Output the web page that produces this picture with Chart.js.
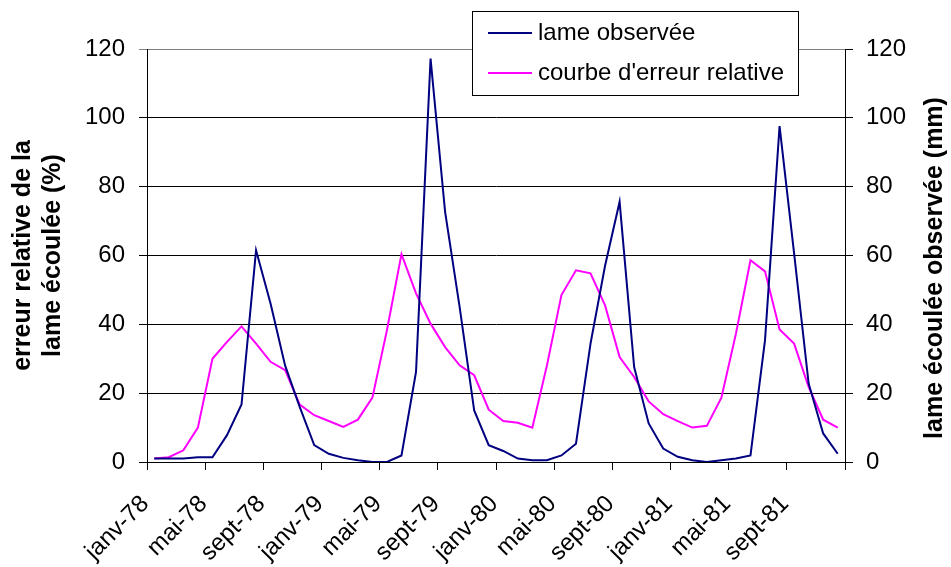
<!DOCTYPE html>
<html lang="fr">
<head>
    <meta charset="UTF-8">
    <title>Lame observée et erreur relative</title>
    <script src="https://cdn.jsdelivr.net/npm/chart.js"></script>
    <style>
        body {
            margin: 0;
            background: #fff;
        }
        #wrap {
            width: 951px;
            height: 567px;
        }
    </style>
</head>
<body>
    <div id="wrap"><canvas id="chart"></canvas></div>

    <script>
        // Mois de janv-78 a déc-81
        const moisNoms = ['janv', 'févr', 'mars', 'avr', 'mai', 'juin', 'juil', 'août', 'sept', 'oct', 'nov', 'déc'];
        const annees = ['78', '79', '80', '81'];
        const mois = [];
        annees.forEach(a => moisNoms.forEach(m => mois.push(m + '-' + a)));

        // lame écoulée observée (mm) - axe de droite
        const lameObservee = [
            1.0, 1.0, 1.0, 1.4, 1.4, 7.8, 16.7, 61.5, 46, 28, 16, 4.9,
            2.4, 1.2, 0.5, 0, 0, 1.9, 26.2, 117.2, 72.7, 45, 15, 4.9,
            3.2, 1.0, 0.5, 0.5, 1.9, 5.3, 34.4, 57, 75.6, 27.6, 11.2, 3.9,
            1.5, 0.5, 0, 0.5, 1.0, 1.9, 35.4, 97.6, 60.6, 22.8, 8.3, 2.4
        ];

        // erreur relative de la lame écoulée (%) - axe de gauche
        const erreurRelative = [
            1.0, 1.4, 3.4, 10, 30, 34.9, 39.4, 34.4, 29.1, 26.7, 16.7, 13.6,
            11.9, 10.2, 12.3, 18.7, 38.3, 60.4, 49, 40.2, 33.4, 28.1, 25.2, 15.2,
            11.9, 11.4, 10, 28, 48.5, 55.7, 54.8, 45.5, 30.5, 24.7, 17.6, 13.9,
            11.9, 10, 10.5, 18.7, 37.3, 58.6, 55.4, 38.5, 34.4, 21.8, 12.3, 10
        ];

        const yTicks = [0, 20, 40, 60, 80, 100, 120];

        Chart.defaults.font.family = "'Liberation Sans', Arial, sans-serif";
        Chart.defaults.color = '#000';

        // legende dans un cadre, par-dessus le haut du graphique
        const legendeCadre = {
            id: 'legendeCadre',
            afterDraw(chart) {
                const ctx = chart.ctx;
                ctx.save();
                ctx.fillStyle = '#fff';
                ctx.fillRect(472, 11, 326, 84);
                ctx.strokeStyle = '#000';
                ctx.lineWidth = 1;
                ctx.strokeRect(472.5, 11.5, 326, 84);
                ctx.font = "24px 'Liberation Sans', Arial, sans-serif";
                ctx.textBaseline = 'middle';
                chart.data.datasets.forEach((ds, i) => {
                    const y = 33 + i * 40;
                    ctx.strokeStyle = ds.borderColor;
                    ctx.lineWidth = 2;
                    ctx.beginPath();
                    ctx.moveTo(488, y);
                    ctx.lineTo(532, y);
                    ctx.stroke();
                    ctx.fillStyle = '#000';
                    ctx.fillText(ds.label, 538, y);
                });
                ctx.restore();
            }
        };

        // titre de l'axe de droite, lu de bas en haut comme dans l'original
        const titreDroite = {
            id: 'titreDroite',
            afterDraw(chart) {
                const ctx = chart.ctx;
                ctx.save();
                ctx.translate(935, 268);
                ctx.rotate(-Math.PI / 2);
                ctx.font = "bold 25px 'Liberation Sans', Arial, sans-serif";
                ctx.textAlign = 'center';
                ctx.textBaseline = 'middle';
                ctx.fillStyle = '#000';
                ctx.fillText(chart.options.scales.y1.title.text, 0, 0);
                ctx.restore();
            }
        };

        new Chart(document.getElementById('chart'), {
            type: 'line',
            data: {
                labels: mois,
                datasets: [
                    {
                        label: 'lame observée',
                        data: lameObservee,
                        yAxisID: 'y1',
                        borderColor: '#000080',
                        borderWidth: 2,
                        pointRadius: 0,
                        tension: 0,
                        fill: false
                    },
                    {
                        label: "courbe d'erreur relative",
                        data: erreurRelative,
                        yAxisID: 'y',
                        borderColor: '#FF00FF',
                        borderWidth: 2,
                        pointRadius: 0,
                        tension: 0,
                        fill: false
                    }
                ]
            },
            options: {
                responsive: true,
                maintainAspectRatio: false,
                animation: false,
                layout: { padding: { top: 49 } },
                plugins: {
                    legend: { display: false },
                    tooltip: { enabled: false }
                },
                scales: {
                    x: {
                        offset: true,
                        grid: {
                            offset: true,
                            drawOnChartArea: false,
                            tickLength: 8,
                            color: ctx => (ctx.index === undefined || ctx.index % 4 === 0) ? '#000' : 'rgba(0,0,0,0)'
                        },
                        border: { color: '#000' },
                        ticks: {
                            autoSkip: false,
                            maxRotation: 45,
                            minRotation: 45,
                            padding: 20,
                            labelOffset: -9,
                            font: { size: 24 },
                            callback: function (v, i) {
                                return i % 4 === 0 ? this.getLabelForValue(v) : '';
                            }
                        },
                        afterFit(s) { s.height = 105; }
                    },
                    y: {
                        position: 'left',
                        min: 0,
                        max: 120,
                        afterBuildTicks(s) { s.ticks = yTicks.map(v => ({ value: v })); },
                        ticks: { padding: 14, font: { size: 24 } },
                        grid: {
                            tickLength: 8,
                            color: ctx => (ctx.tick && ctx.tick.value === 120) ? '#808080' : '#000'
                        },
                        border: { color: '#000' },
                        title: {
                            display: true,
                            text: ['erreur relative de la', 'lame écoulée (%)'],
                            font: { size: 25, weight: 'bold' },
                            padding: { top: 8, bottom: 0 }
                        },
                        afterFit(s) { s.width = 147; }
                    },
                    y1: {
                        position: 'right',
                        min: 0,
                        max: 120,
                        afterBuildTicks(s) { s.ticks = yTicks.map(v => ({ value: v })); },
                        ticks: { padding: 13, font: { size: 24 } },
                        grid: {
                            drawOnChartArea: false,
                            tickLength: 8,
                            color: '#000'
                        },
                        border: { color: '#000' },
                        title: { display: false, text: 'lame écoulée observée (mm)' },
                        afterFit(s) { s.width = 106; }
                    }
                }
            },
            plugins: [legendeCadre, titreDroite]
        });
    </script>
</body>
</html>
